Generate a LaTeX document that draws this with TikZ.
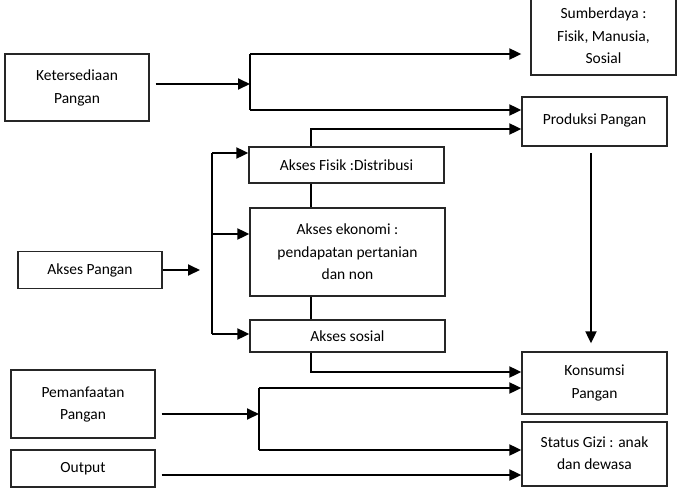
\documentclass[tikz,border=0pt]{standalone}
\usepackage{fontspec}
\setmainfont{Carlito}
\usetikzlibrary{arrows.meta}
\begin{document}
\begin{tikzpicture}[x=1pt,y=-1pt,
  box/.style={draw=black!85, line width=1.3pt, inner sep=0pt, align=center,
    font=\fontsize{15.5}{22.5}\selectfont},
  arr/.style={line width=1.9pt, -{Triangle[length=12pt,width=11pt]}},
  ln/.style={line width=1.4pt}]
\useasboundingbox (0,0) rectangle (678,496);
% nodes
\node[box, minimum width=144pt, minimum height=67pt] (ket) at (77,87.5) {\raisebox{3pt}{\begin{tabular}{@{}c@{}}Ketersediaan\\Pangan\end{tabular}}};
\node[box, minimum width=145pt, minimum height=78pt] (sum) at (603.5,36) {Sumberdaya :\\Fisik, Manusia,\\Sosial};
\node[box, minimum width=145pt, minimum height=49pt] (prod) at (594.5,121.5) {\raisebox{5pt}{Produksi Pangan}};
\node[box, minimum width=195pt, minimum height=36pt] (fis) at (346.5,165) {Akses Fisik :Distribusi};
\node[box, minimum width=195pt, minimum height=88pt] (eko) at (347.5,252) {Akses ekonomi :\\pendapatan pertanian\\dan non};
\node[box, minimum width=195pt, minimum height=32pt] (sos) at (347.5,336) {\raisebox{-2pt}{Akses sosial}};
\node[box, minimum width=144pt, minimum height=37pt] (akp) at (90,270) {Akses Pangan};
\node[box, minimum width=144pt, minimum height=68pt] (pem) at (83,404) {\raisebox{4pt}{\begin{tabular}{@{}c@{}}Pemanfaatan\\Pangan\end{tabular}}};
\node[box, minimum width=144pt, minimum height=37pt] (out) at (83,468.5) {Output};
\node[box, minimum width=145pt, minimum height=62pt] (kon) at (594.5,383) {Konsumsi\\Pangan};
\node[box, minimum width=145pt, minimum height=64pt] (gizi) at (594.5,454) {\raisebox{1.5pt}{\begin{tabular}{@{}c@{}}Status Gizi : anak\\dan dewasa\end{tabular}}};
% coordinates
\coordinate (k1) at (250,84);
\coordinate (j1) at (250,54);
\coordinate (j2) at (250,110);
\coordinate (f1) at (311,129);
\coordinate (c1) at (200,270);
\coordinate (a1) at (212,153);
\coordinate (a2) at (212,234);
\coordinate (a3) at (212,334);
\coordinate (s1) at (0,372);
\coordinate (p1) at (591,153);
\coordinate (m1) at (259,414);
\coordinate (m2) at (259,388);
\coordinate (m3) at (259,450);
\coordinate (o1) at (0,475);
% connectors
\draw[arr, shorten <=6pt] (k1 -| ket.east) -- (k1);
\draw[ln] (j1) -- (j2);
\draw[arr] (j1) -- (j1 -| prod.west);
\draw[arr] (j2) -- (j2 -| prod.west);
\draw[arr] (f1 |- fis.north) |- (f1 -| prod.west);
\draw[ln] (f1 |- fis.south) -- (f1 |- eko.north);
\draw[ln] (f1 |- eko.south) -- (f1 |- sos.north);
\draw[arr] (f1 |- sos.south) |- (s1 -| kon.west);
\draw[arr] (akp.east) -- (c1 |- akp.east);
\draw[ln] (a1) -- (a3);
\draw[arr] (a1) -- (a1 -| fis.west);
\draw[arr] (a2) -- (a2 -| eko.west);
\draw[arr] (a3) -- (a3 -| sos.west);
\draw[arr, shorten >=8pt] (p1) -- (p1 |- kon.north);
\draw[arr, shorten <=6pt] (m1 -| pem.east) -- (m1);
\draw[ln] (m2) -- (m3);
\draw[arr] (m2) -- (m2 -| kon.west);
\draw[arr] (m3) -- (m3 -| gizi.west);
\draw[arr, shorten <=6pt] (o1 -| out.east) -- (o1 -| gizi.west);
\end{tikzpicture}
\end{document}
